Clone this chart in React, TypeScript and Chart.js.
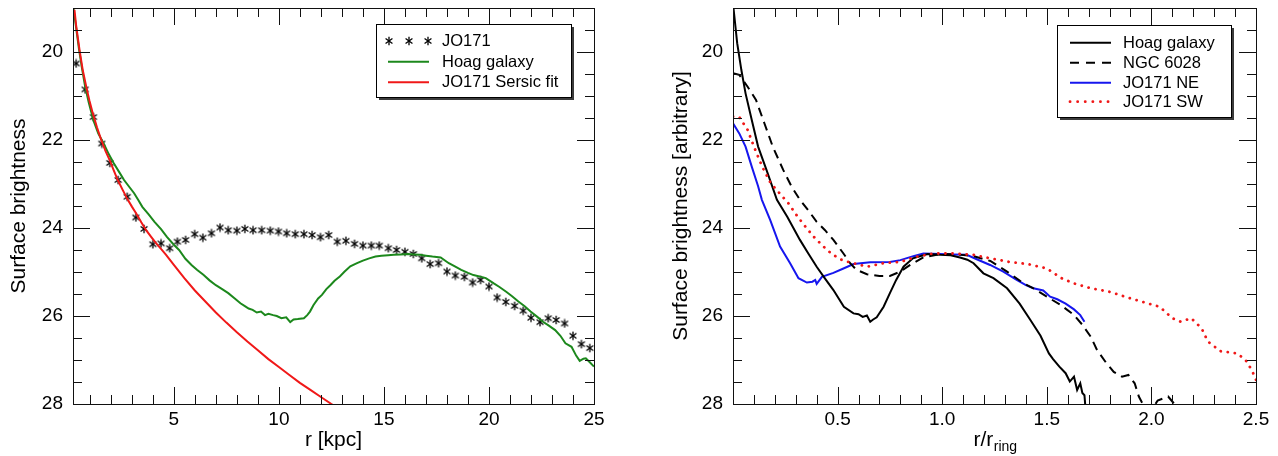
import React, { useEffect, useRef } from 'react';
import { Chart, registerables } from 'chart.js';

Chart.register(...registerables);

const FONT = "'Liberation Sans', Arial, Helvetica, sans-serif";

// ---------------- Left panel data (r [kpc] vs surface brightness) ----------------
const jo171R = [
  0.35, 0.78, 1.17, 1.57, 1.95, 2.35, 2.78, 3.19, 3.58, 4.0,
  4.39, 4.8, 5.17, 5.56, 5.99, 6.38, 6.79, 7.2, 7.59, 8.0,
  8.38, 8.77, 9.18, 9.59, 9.98, 10.37, 10.78, 11.19, 11.58, 11.98,
  12.37, 12.78, 13.19, 13.6, 14.0, 14.4, 14.78, 15.21, 15.6, 16.0,
  16.4, 16.8, 17.2, 17.6, 18.0, 18.4, 18.83, 19.22, 19.6, 20.0,
  20.39, 20.8, 21.22, 21.63, 22.0, 22.43, 22.82, 23.2, 23.6, 24.0,
  24.4, 24.8,
];
const jo171Mu = [
  20.26, 20.85, 21.48, 22.08, 22.52, 22.91, 23.29, 23.76, 24.02, 24.37,
  24.35, 24.46, 24.31, 24.27, 24.14, 24.22, 24.12, 23.99, 24.05, 24.06,
  24.02, 24.05, 24.05, 24.06, 24.08, 24.12, 24.14, 24.14, 24.16, 24.21,
  24.16, 24.31, 24.29, 24.36, 24.4, 24.4, 24.4, 24.46, 24.5, 24.54,
  24.59, 24.69, 24.82, 24.8, 24.99, 25.08, 25.11, 25.24, 25.18, 25.33,
  25.58, 25.68, 25.77, 25.88, 26.04, 26.14, 26.05, 26.09, 26.17, 26.45,
  26.64, 26.73,
];

const hoagKpcR = [
  0.22, 0.35, 0.49, 0.62, 0.78, 0.95, 1.17, 1.4, 1.66, 1.9,
  2.14, 2.4, 2.63, 2.9, 3.11, 3.3, 3.5, 3.8, 4.08, 4.4,
  4.67, 5.0, 5.25, 5.55, 5.84, 6.1, 6.42, 6.7, 7.0, 7.3,
  7.59, 7.9, 8.17, 8.4, 8.56, 8.75, 8.95, 9.15, 9.34, 9.5,
  9.73, 9.9, 10.12, 10.35, 10.54, 10.7, 10.9, 11.19, 11.35, 11.48,
  11.65, 11.87, 12.05, 12.26, 12.45, 12.65, 12.9, 13.13, 13.4, 13.72,
  14.0, 14.3, 14.6, 14.88, 15.2, 15.47, 15.8, 16.15, 16.45, 16.73,
  17.0, 17.31, 17.7, 18.09, 18.4, 18.68, 19.0, 19.26, 19.55, 19.85,
  20.23, 20.5, 20.82, 21.1, 21.4, 21.7, 21.98, 22.3, 22.57, 22.85,
  23.15, 23.4, 23.64, 23.93, 24.15, 24.32, 24.5, 24.61, 24.8, 25.0,
];
const hoagKpcMu = [
  19.0, 19.45, 19.95, 20.35, 20.79, 21.15, 21.55, 21.85, 22.08, 22.32,
  22.53, 22.73, 22.91, 23.08, 23.21, 23.36, 23.52, 23.69, 23.86, 24.03,
  24.2, 24.38, 24.5, 24.7, 24.84, 24.95, 25.07, 25.19, 25.3, 25.39,
  25.48, 25.6, 25.71, 25.78, 25.83, 25.86, 25.92, 25.9, 25.98, 25.95,
  25.98, 26.0, 26.05, 26.03, 26.14, 26.08, 26.07, 26.05, 25.98, 25.9,
  25.75, 25.6, 25.52, 25.39, 25.3, 25.2, 25.1, 24.99, 24.87, 24.8,
  24.74, 24.69, 24.65, 24.63, 24.62, 24.61, 24.6, 24.59, 24.6, 24.61,
  24.63, 24.65, 24.67, 24.8, 24.88, 24.95, 25.02, 25.07, 25.1, 25.14,
  25.26, 25.34, 25.45, 25.55, 25.67, 25.78, 25.9, 26.02, 26.13, 26.22,
  26.32, 26.45, 26.62, 26.7, 26.9, 27.02, 26.97, 26.96, 27.05, 27.15,
];

const sersicR = [
  0.27, 0.35, 0.51, 0.66, 0.83, 0.98, 1.14, 1.34, 1.54, 1.74,
  1.94, 2.13, 2.33, 2.57, 2.81, 3.01, 3.21, 3.45, 3.68, 3.92,
  4.16, 4.4, 4.63, 5.0, 5.5, 6.0, 6.5, 7.0, 7.5, 8.0,
  8.5, 9.0, 9.5, 10.0, 10.5, 11.0, 11.5, 12.0, 12.5, 13.0,
];
const sersicMu = [
  19.04, 19.4, 19.95, 20.4, 20.79, 21.1, 21.39, 21.71, 21.99, 22.24,
  22.45, 22.68, 22.91, 23.14, 23.36, 23.52, 23.67, 23.87, 24.05, 24.2,
  24.35, 24.48, 24.61, 24.84, 25.14, 25.42, 25.67, 25.92, 26.15, 26.37,
  26.58, 26.78, 26.98, 27.16, 27.34, 27.52, 27.68, 27.84, 28.0, 28.15,
];

// ---------------- Right panel data (r / r_ring vs surface brightness) ----------------
const hoagRingR = [
  0.0, 0.02, 0.04, 0.06, 0.09, 0.12, 0.16, 0.21, 0.26, 0.32,
  0.36, 0.40, 0.44, 0.48, 0.53, 0.576, 0.60, 0.62, 0.64, 0.656,
  0.67, 0.687, 0.72, 0.75, 0.78, 0.815, 0.86, 0.93, 0.99, 1.04,
  1.085, 1.12, 1.15, 1.197, 1.245, 1.31, 1.37, 1.42, 1.47, 1.51,
  1.53, 1.56, 1.59, 1.61, 1.63, 1.645, 1.66, 1.67, 1.68, 1.685,
];
const hoagRingMu = [
  18.9, 19.8, 20.41, 20.94, 21.55, 22.15, 22.68, 23.36, 23.75, 24.27,
  24.58, 24.88, 25.15, 25.41, 25.79, 25.94, 25.96, 26.02, 25.99, 26.13,
  26.08, 26.03, 25.79, 25.48, 25.18, 24.88, 24.69, 24.59, 24.61, 24.62,
  24.67, 24.72, 24.8, 25.03, 25.14, 25.37, 25.72, 26.08, 26.45, 26.85,
  26.98, 27.15, 27.3, 27.49, 27.38, 27.68, 27.53, 27.75, 27.8, 28.1,
];

const ngcR = [
  0.0, 0.03, 0.07, 0.11, 0.15, 0.19, 0.24, 0.28, 0.32, 0.36,
  0.40, 0.44, 0.48, 0.528, 0.56, 0.59, 0.64, 0.70, 0.75, 0.80,
  0.847, 0.91, 0.99, 1.07, 1.15, 1.23, 1.31, 1.39, 1.436, 1.50,
  1.57, 1.63, 1.67, 1.71, 1.74, 1.78, 1.82, 1.86, 1.89, 1.92,
  1.94, 1.97, 2.0, 2.03, 2.08, 2.11, 2.13,
];
const ngcMu = [
  20.48, 20.52, 20.79, 21.09, 21.62, 22.15, 22.68, 23.06, 23.36, 23.6,
  23.86, 24.05, 24.27, 24.58, 24.8, 24.95, 25.05, 25.09, 25.09, 24.99,
  24.84, 24.67, 24.59, 24.6, 24.64, 24.75, 24.99, 25.26, 25.37, 25.56,
  25.76, 25.98, 26.2, 26.47, 26.77, 27.04, 27.27, 27.38, 27.34, 27.53,
  27.83, 28.1, 28.15, 27.92, 27.83, 28.0, 28.15,
];

const neR = [
  0.0, 0.03, 0.06, 0.09, 0.12, 0.138, 0.178, 0.225, 0.273, 0.313,
  0.353, 0.38, 0.393, 0.40, 0.425, 0.48, 0.528, 0.576, 0.656, 0.75,
  0.80, 0.862, 0.91, 0.99, 1.05, 1.117, 1.165, 1.229, 1.292, 1.356,
  1.40, 1.436, 1.483, 1.516, 1.55, 1.59, 1.63, 1.66, 1.68,
];
const neMu = [
  21.62, 21.85, 22.15, 22.61, 23.05, 23.36, 23.82, 24.42, 24.8, 25.14,
  25.24, 25.22, 25.18, 25.27, 25.11, 25.02, 24.92, 24.82, 24.78, 24.77,
  24.73, 24.64, 24.58, 24.59, 24.6, 24.61, 24.71, 24.84, 24.99, 25.18,
  25.3, 25.37, 25.42, 25.56, 25.62, 25.72, 25.85, 25.98, 26.13,
];

const swR = [
  0.0, 0.03, 0.07, 0.1, 0.14, 0.18, 0.23, 0.265, 0.31, 0.353,
  0.39, 0.432, 0.47, 0.512, 0.55, 0.576, 0.64, 0.72, 0.80, 0.88,
  0.958, 1.05, 1.15, 1.23, 1.32, 1.41, 1.50, 1.57, 1.63, 1.71,
  1.8, 1.9, 1.98, 2.04, 2.1, 2.14, 2.19, 2.24, 2.27, 2.33,
  2.41, 2.45, 2.48, 2.5,
];
const swMu = [
  21.47, 21.48, 21.77, 22.15, 22.61, 22.98, 23.25, 23.44, 23.75, 24.01,
  24.22, 24.42, 24.58, 24.71, 24.77, 24.8, 24.88, 24.8, 24.77, 24.65,
  24.58, 24.58, 24.61, 24.69, 24.77, 24.82, 24.92, 25.14, 25.26, 25.37,
  25.45, 25.6, 25.71, 25.79, 26.05, 26.13, 26.05, 26.28, 26.58, 26.8,
  26.85, 27.0, 27.23, 27.45,
];

// ---------------- Ticks / labels ----------------
const leftXTicks = [5, 10, 15, 20, 25];
const rightXTicks = [0.5, 1.0, 1.5, 2.0, 2.5];
const yTicks = [20, 22, 24, 26, 28];
const leftLegendLabels = ['JO171', 'Hoag galaxy', 'JO171 Sersic fit'];
const rightLegendLabels = ['Hoag galaxy', 'NGC 6028', 'JO171 NE', 'JO171 SW'];
const leftXTitle = 'r [kpc]';
const leftYTitle = 'Surface brightness';
const rightYTitle = 'Surface brightness [arbitrary]';

const GREEN = 'rgb(28,136,28)';
const RED = 'rgb(240,24,24)';
const BLUE = 'rgb(22,22,238)';
const BLACK = '#000';

const pts = (xs: number[], ys: number[]) => xs.map((x, i) => ({ x, y: ys[i] }));

function makeStar(size = 10, color = '#000'): HTMLCanvasElement {
  const c = document.createElement('canvas');
  c.width = size;
  c.height = size;
  const g = c.getContext('2d')!;
  g.strokeStyle = color;
  g.lineWidth = 1.3;
  g.lineCap = 'butt';
  const cx = size / 2, cy = size / 2, r = size / 2 - 0.8;
  for (const a of [90, 35, 145]) {
    const rad = (a * Math.PI) / 180;
    g.beginPath();
    g.moveTo(cx - r * Math.cos(rad), cy - r * Math.sin(rad));
    g.lineTo(cx + r * Math.cos(rad), cy + r * Math.sin(rad));
    g.stroke();
  }
  return c;
}

type LegendRow = { label: string; kind: 'stars' | 'line'; color: string; dash?: number[]; cap?: CanvasLineCap; width?: number };
type LegendSpec = { x: number; y: number; w: number; h: number; rowYs: number[]; lineX0: number; lineX1: number; textX: number; rows: LegendRow[] };

type DecorSpec = {
  xMinorCount: number;
  xMinorValue: (i: number) => number;
  xIsMajor: (i: number) => boolean;
  yTitle: string;
  yTitleX: number;
  xTitle: (ctx: CanvasRenderingContext2D, cx: number, baseline: number) => void;
  xTitleX: number;
  legend: LegendSpec;
  star: HTMLCanvasElement | null;
};

function makeDecor(spec: DecorSpec) {
  return {
    id: 'decor',
    afterDraw(chart: any) {
      const ctx: CanvasRenderingContext2D = chart.ctx;
      const { left, right, top, bottom } = chart.chartArea;
      const xs = chart.scales.x;
      const ys = chart.scales.y;
      ctx.save();
      ctx.strokeStyle = '#111';
      ctx.lineWidth = 1;
      ctx.strokeRect(Math.round(left) + 0.5, Math.round(top) + 0.5, Math.round(right - left), Math.round(bottom - top));
      ctx.beginPath();
      for (let i = 1; i <= spec.xMinorCount; i++) {
        const v = spec.xMinorValue(i);
        const px = Math.round(xs.getPixelForValue(v)) + 0.5;
        if (px > right + 1) continue;
        const len = spec.xIsMajor(i) ? 17 : 9;
        ctx.moveTo(px, bottom);
        ctx.lineTo(px, bottom - len);
        ctx.moveTo(px, top);
        ctx.lineTo(px, top + len);
      }
      for (let i = 1; i <= 17; i++) {
        const v = 19 + i * 0.5;
        const py = Math.round(ys.getPixelForValue(v)) + 0.5;
        const len = (i - 2) % 4 === 0 ? 17 : 9;
        ctx.moveTo(left, py);
        ctx.lineTo(left + len, py);
        ctx.moveTo(right, py);
        ctx.lineTo(right - len, py);
      }
      ctx.stroke();

      ctx.fillStyle = '#000';
      ctx.font = `21px ${FONT}`;
      ctx.textAlign = 'center';
      ctx.textBaseline = 'middle';
      ctx.save();
      ctx.translate(spec.yTitleX, (top + bottom) / 2);
      ctx.rotate(-Math.PI / 2);
      ctx.fillText(spec.yTitle, 0, 0);
      ctx.restore();
      spec.xTitle(ctx, spec.xTitleX, 446);

      const L = spec.legend;
      ctx.fillStyle = '#3c3c3c';
      ctx.fillRect(L.x + 3, L.y + 3, L.w, L.h);
      ctx.fillStyle = '#fff';
      ctx.fillRect(L.x, L.y, L.w, L.h);
      ctx.strokeStyle = '#000';
      ctx.lineWidth = 1;
      ctx.strokeRect(L.x + 0.5, L.y + 0.5, L.w, L.h);
      L.rows.forEach((row, k) => {
        const y = L.rowYs[k];
        if (row.kind === 'stars' && spec.star) {
          const s = spec.star;
          for (const sx of [L.lineX0 + 1, (L.lineX0 + L.lineX1) / 2, L.lineX1 - 1]) {
            ctx.drawImage(s, Math.round(sx - s.width / 2), Math.round(y - s.height / 2));
          }
        } else {
          ctx.save();
          ctx.strokeStyle = row.color;
          ctx.lineWidth = row.width ?? 2;
          ctx.lineCap = row.cap ?? 'butt';
          ctx.setLineDash(row.dash ?? []);
          ctx.beginPath();
          ctx.moveTo(L.lineX0, y);
          ctx.lineTo(L.lineX1, y);
          ctx.stroke();
          ctx.restore();
        }
        ctx.fillStyle = '#000';
        ctx.font = `16.5px ${FONT}`;
        ctx.textAlign = 'left';
        ctx.textBaseline = 'middle';
        ctx.fillText(row.label, L.textX, y + 0.5);
      });
      ctx.restore();
    },
  };
}

function baseOptions(p: { xMin: number; xMax: number; xTicks: number[]; xFmt: (v: number) => string; yWidth: number; rightPad: number }) {
  return {
    responsive: false,
    animation: false as const,
    events: [] as any[],
    layout: { padding: { top: 8, right: p.rightPad, left: 0, bottom: 0 } },
    plugins: { legend: { display: false }, tooltip: { enabled: false }, title: { display: false } },
    scales: {
      x: {
        type: 'linear' as const,
        min: p.xMin,
        max: p.xMax,
        grid: { display: false, drawTicks: false },
        border: { display: false },
        ticks: {
          autoSkip: false,
          maxRotation: 0,
          padding: 4,
          color: '#000',
          font: { family: FONT, size: 19 },
          callback: (v: any) => p.xFmt(Number(v)),
        },
        afterBuildTicks: (s: any) => {
          s.ticks = p.xTicks.map((v) => ({ value: v }));
        },
        afterFit: (s: any) => {
          s.height = 52;
          s.paddingLeft = 0;
          s.paddingRight = 0;
        },
      },
      y: {
        type: 'linear' as const,
        reverse: true,
        min: 19,
        max: 28,
        grid: { display: false, drawTicks: false },
        border: { display: false },
        ticks: {
          autoSkip: false,
          padding: 10,
          color: '#000',
          font: { family: FONT, size: 19 },
          callback: (v: any) => String(v),
        },
        afterBuildTicks: (s: any) => {
          s.ticks = yTicks.map((v) => ({ value: v }));
        },
        afterFit: (s: any) => {
          s.width = p.yWidth;
          s.paddingTop = 0;
          s.paddingBottom = 0;
        },
      },
    },
  };
}

export default function App() {
  const leftRef = useRef<HTMLCanvasElement>(null);
  const rightRef = useRef<HTMLCanvasElement>(null);

  useEffect(() => {
    const star = makeStar();
    const lineDs = (label: string, xs: number[], ys: number[], color: string, extra: any = {}) => ({
      label,
      data: pts(xs, ys),
      borderColor: color,
      backgroundColor: color,
      borderWidth: 2,
      pointRadius: 0,
      tension: 0,
      fill: false,
      ...extra,
    });

    const leftChart = new Chart(leftRef.current!, {
      type: 'line',
      data: {
        datasets: [
          lineDs(leftLegendLabels[2], sersicR, sersicMu, RED),
          lineDs(leftLegendLabels[1], hoagKpcR, hoagKpcMu, GREEN),
          {
            label: leftLegendLabels[0],
            data: pts(jo171R, jo171Mu),
            showLine: false,
            pointStyle: star,
            pointRadius: 5,
            borderColor: '#000',
            backgroundColor: '#000',
          },
        ],
      },
      options: baseOptions({ xMin: 0.2, xMax: 25, xTicks: leftXTicks, xFmt: (v) => String(v), yWidth: 73, rightPad: 45 }) as any,
      plugins: [
        makeDecor({
          xMinorCount: 25,
          xMinorValue: (i) => i,
          xIsMajor: (i) => i % 5 === 0,
          yTitle: leftYTitle,
          yTitleX: 19,
          xTitleX: 333.5,
          xTitle: (ctx, cx, base) => {
            ctx.font = `21px ${FONT}`;
            ctx.textAlign = 'center';
            ctx.textBaseline = 'alphabetic';
            ctx.fillText(leftXTitle, cx, base);
          },
          legend: {
            x: 376, y: 24, w: 195, h: 73,
            rowYs: [40.7, 61.7, 82.3],
            lineX0: 388, lineX1: 429, textX: 442,
            rows: [
              { label: leftLegendLabels[0], kind: 'stars', color: '#000' },
              { label: leftLegendLabels[1], kind: 'line', color: GREEN },
              { label: leftLegendLabels[2], kind: 'line', color: RED },
            ],
          },
          star,
        }) as any,
      ],
    });

    const rightChart = new Chart(rightRef.current!, {
      type: 'line',
      data: {
        datasets: [
          lineDs(rightLegendLabels[3], swR, swMu, RED, { borderDash: [0.1, 7], borderWidth: 2.8, borderCapStyle: 'round' }),
          lineDs(rightLegendLabels[1], ngcR, ngcMu, BLACK, { borderDash: [9, 6] }),
          lineDs(rightLegendLabels[0], hoagRingR, hoagRingMu, BLACK),
          lineDs(rightLegendLabels[2], neR, neMu, BLUE),
        ],
      },
      options: baseOptions({ xMin: 0, xMax: 2.5, xTicks: rightXTicks, xFmt: (v) => v.toFixed(1), yWidth: 94, rightPad: 22 }) as any,
      plugins: [
        makeDecor({
          xMinorCount: 25,
          xMinorValue: (i) => i / 10,
          xIsMajor: (i) => i % 5 === 0,
          yTitle: rightYTitle,
          yTitleX: 42,
          xTitleX: 356,
          xTitle: (ctx, cx, base) => {
            ctx.textBaseline = 'alphabetic';
            ctx.textAlign = 'left';
            ctx.font = `21px ${FONT}`;
            const main = 'r/r';
            const wMain = ctx.measureText(main).width;
            ctx.font = `14px ${FONT}`;
            const sub = 'ring';
            const wSub = ctx.measureText(sub).width;
            const x0 = cx - (wMain + wSub) / 2;
            ctx.font = `21px ${FONT}`;
            ctx.fillText(main, x0, base);
            ctx.font = `14px ${FONT}`;
            ctx.fillText(sub, x0 + wMain + 0.5, base + 5);
          },
          legend: {
            x: 418, y: 25, w: 174, h: 92,
            rowYs: [42.7, 62.7, 82.7, 101.7],
            lineX0: 431, lineX1: 472, textX: 484,
            rows: [
              { label: rightLegendLabels[0], kind: 'line', color: BLACK },
              { label: rightLegendLabels[1], kind: 'line', color: BLACK, dash: [9, 7] },
              { label: rightLegendLabels[2], kind: 'line', color: BLUE },
              { label: rightLegendLabels[3], kind: 'line', color: RED, dash: [0.1, 7.5], cap: 'round', width: 2.8 },
            ],
          },
          star: null,
        }) as any,
      ],
    });

    return () => {
      leftChart.destroy();
      rightChart.destroy();
    };
  }, []);

  return (
    <div style={{ position: 'fixed', left: 0, top: 0, width: 1278, height: 456, background: '#fff' }}>
      <canvas ref={leftRef} width={639} height={456} style={{ position: 'absolute', left: 0, top: 0, width: 639, height: 456 }} />
      <canvas ref={rightRef} width={639} height={456} style={{ position: 'absolute', left: 639, top: 0, width: 639, height: 456 }} />
    </div>
  );
}
